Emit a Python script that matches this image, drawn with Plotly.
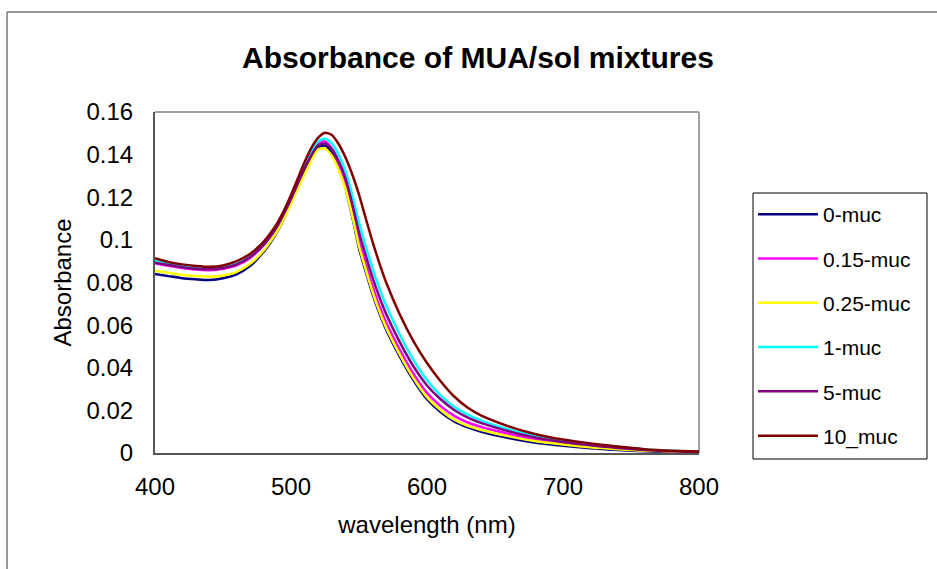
import plotly.graph_objects as go

wavelength = [400, 410, 420, 430, 440, 450, 460, 470, 480, 485, 490, 495, 500, 505, 510, 515, 520, 525, 530, 535,
              540, 545, 550, 555, 560, 565, 570, 580, 590, 600, 610, 620, 630, 640, 660, 680, 700, 720, 740, 760, 780, 800]

muc_0 = [.0840, .0830, .0820, .0815, .0812, .0820, .0838, .0878, .0945, .0988, .1040, .1103, .1175, .1250, .1320, .1385,
         .1433, .1442, .1408, .1340, .1245, .1110, .0960, .0850, .0745, .0655, .0578, .0452, .0342, .0252, .0192, .0148,
         .0120, .0100, .0070, .0048, .0034, .0022, .0014, .0008, .0005, .0003]
muc_015 = [.0890, .0878, .0868, .0861, .0858, .0864, .0880, .0915, .0975, .1017, .1065, .1127, .1195, .1270, .1343, .1408,
           .1455, .1462, .1428, .1362, .1270, .1140, .0998, .0885, .0782, .0690, .0612, .0484, .0372, .0282, .0220, .0174,
           .0143, .0122, .0090, .0063, .0045, .0031, .0021, .0013, .0008, .0005]
muc_025 = [.0855, .0846, .0836, .0830, .0827, .0833, .0850, .0888, .0950, .0993, .1042, .1103, .1170, .1240, .1308, .1372,
           .1425, .1428, .1395, .1330, .1240, .1115, .0970, .0860, .0755, .0665, .0588, .0462, .0352, .0262, .0202, .0156,
           .0127, .0108, .0078, .0055, .0040, .0027, .0018, .0011, .0007, .0004]
muc_1 = [.0902, .0888, .0876, .0868, .0865, .0870, .0888, .0922, .0980, .1021, .1068, .1130, .1198, .1273, .1348, .1415,
         .1463, .1475, .1453, .1400, .1325, .1210, .1080, .0968, .0865, .0772, .0692, .0555, .0437, .0342, .0270, .0217,
         .0180, .0152, .0110, .0080, .0058, .0041, .0028, .0017, .0010, .0006]
muc_5 = [.0893, .0882, .0872, .0865, .0862, .0868, .0885, .0920, .0978, .1018, .1065, .1125, .1192, .1265, .1336, .1398,
         .1445, .1452, .1427, .1370, .1290, .1170, .1035, .0925, .0822, .0732, .0652, .0520, .0407, .0317, .0252, .0202,
         .0166, .0140, .0102, .0072, .0052, .0036, .0024, .0014, .0008, .0004]
muc_10 = [.0914, .0896, .0885, .0878, .0874, .0880, .0900, .0935, .0992, .1032, .1080, .1140, .1210, .1288, .1365, .1432,
          .1480, .1503, .1492, .1450, .1388, .1308, .1212, .1100, .0990, .0890, .0800, .0650, .0525, .0422, .0337, .0265,
          .0212, .0175, .0125, .0088, .0063, .0045, .0030, .0018, .0011, .0007]

series_names = ["0-muc", "0.15-muc", "0.25-muc", "1-muc", "5-muc", "10_muc"]
series_values = [muc_0, muc_015, muc_025, muc_1, muc_5, muc_10]
series_colors = ["#000080", "#FF00FF", "#FFFF00", "#00FFFF", "#800080", "#800000"]

FONT = "Arial, 'Liberation Sans', sans-serif"

fig = go.Figure()
for i, (name, vals, col) in enumerate(zip(series_names, series_values, series_colors)):
    fig.add_trace(go.Scatter(x=wavelength, y=vals, mode="lines", name=name,
                             line=dict(color=col, width=2.5, shape="spline", smoothing=0.6),
                             legendgroup=f"g{i}"))

W, H = 937, 569
L, R, T, B = 155, 238, 112, 116
pw, ph = W - L - R, H - T - B

def px_x(p):
    return (p - L) / pw

def px_y(p):
    return (H - B - p) / ph

fig.update_layout(
    width=W, height=H,
    margin=dict(l=L, r=R, t=T, b=B),
    paper_bgcolor="white", plot_bgcolor="white",
    font=dict(family=FONT, color="black", size=24),
    title=dict(text="Absorbance of MUA/sol mixtures", x=478 / W, xref="container", xanchor="center",
               y=1 - 57 / H, yref="container", yanchor="middle",
               font=dict(family=FONT, size=30, color="black", weight="bold")),
    xaxis=dict(range=[400, 800], dtick=100, showgrid=False, zeroline=False, showline=True,
               linecolor="#555555", linewidth=2, ticks="", ticklabelstandoff=11,
               tickfont=dict(size=24),
               title=dict(text="wavelength (nm)", font=dict(size=24), standoff=17)),
    yaxis=dict(range=[0, 0.16], dtick=0.02, showgrid=False, zeroline=False, showline=True,
               linecolor="#555555", linewidth=2, ticks="", ticklabelstandoff=15,
               tickfont=dict(size=24),
               title=dict(text="Absorbance", font=dict(size=24), standoff=8)),
    legend=dict(x=px_x(753), y=px_y(194), xanchor="left", yanchor="top",
                borderwidth=0, bgcolor="rgba(0,0,0,0)",
                font=dict(size=21, family=FONT), tracegroupgap=14, itemwidth=60),
    shapes=[
        dict(type="rect", xref="paper", yref="paper", x0=px_x(753), x1=px_x(927), y0=px_y(459), y1=px_y(193),
             line=dict(color="black", width=1), fillcolor="white", layer="below"),
        dict(type="line", xref="paper", yref="paper", x0=0, x1=1, y0=1, y1=1,
             line=dict(color="#A0A0A0", width=2), layer="below"),
        dict(type="line", xref="paper", yref="paper", x0=1, x1=1, y0=0, y1=1,
             line=dict(color="#A0A0A0", width=2), layer="below"),
        dict(type="line", xref="paper", yref="paper", x0=px_x(7), x1=px_x(7), y0=px_y(12), y1=px_y(700),
             line=dict(color="#777777", width=1.5)),
        dict(type="line", xref="paper", yref="paper", x0=px_x(7), x1=px_x(1100), y0=px_y(12), y1=px_y(12),
             line=dict(color="#777777", width=1.5)),
    ],
)

fig.write_html("out.html")
